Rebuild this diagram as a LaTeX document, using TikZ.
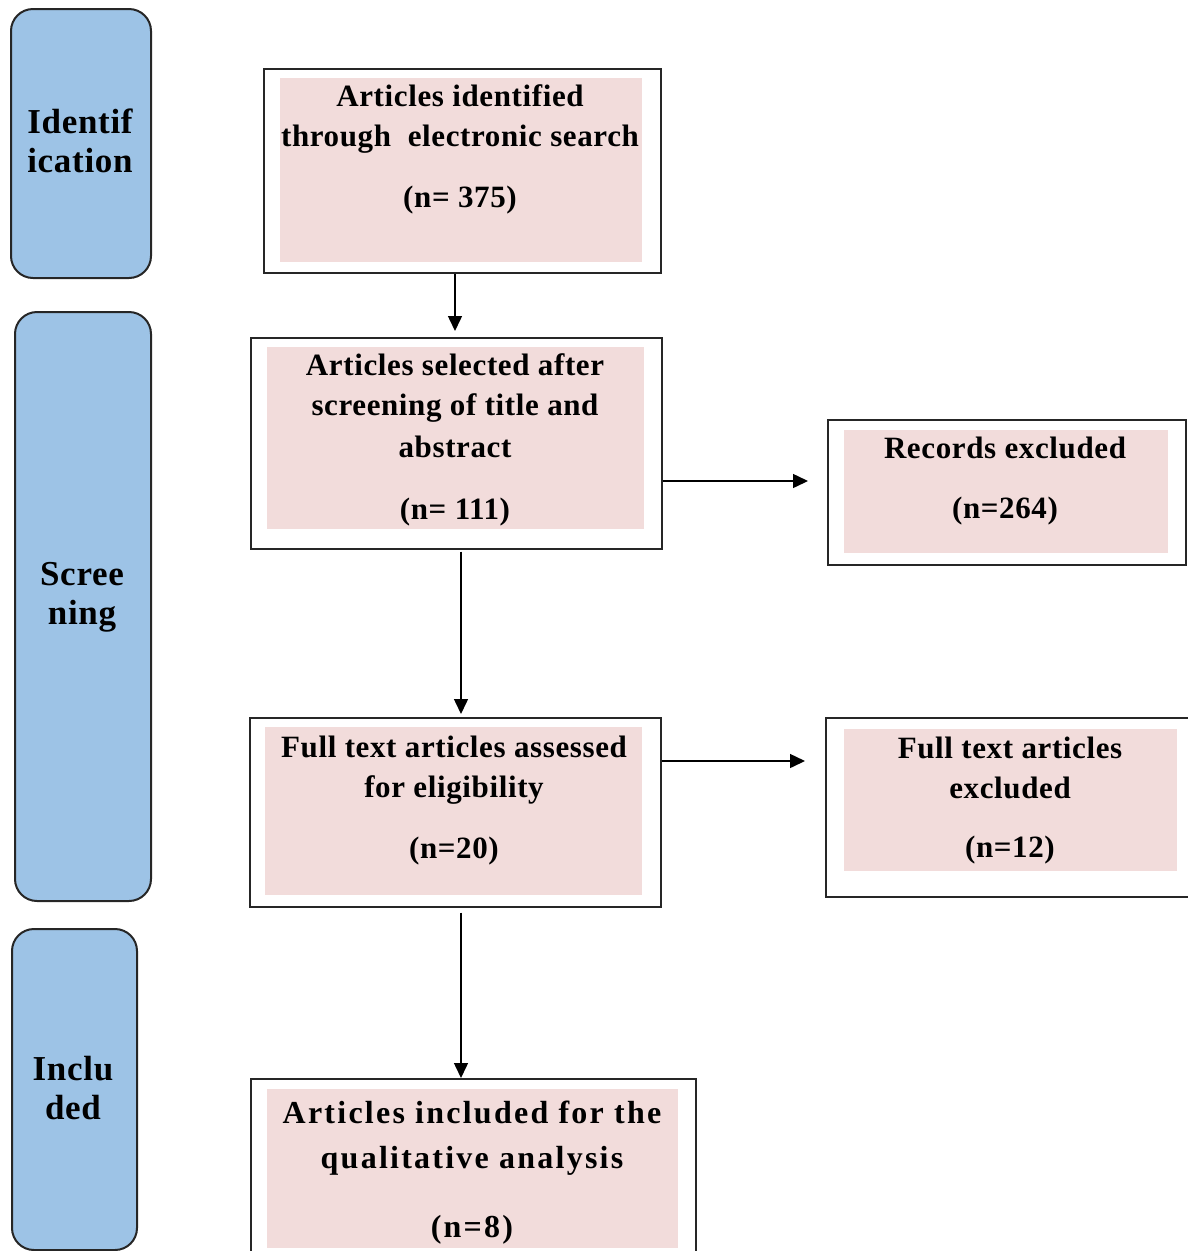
\documentclass[tikz,border=0pt]{standalone}
\usepackage{fontspec}
\setmainfont{Liberation Serif}
\newfontfamily\boxfont{Liberation Serif}[LetterSpace=2]
\newfontfamily\widefont{Liberation Serif}[LetterSpace=7]
\usetikzlibrary{arrows.meta}
\definecolor{phaseblue}{HTML}{9DC3E6}
\definecolor{pinkfill}{HTML}{F2DCDB}
\definecolor{edge}{HTML}{262626}
\tikzset{
  phasebox/.style={draw=edge, line width=2pt, fill=phaseblue, rounded corners=22pt, inner sep=0pt, anchor=north west},
  frame/.style={draw=edge, line width=1.5pt, fill=white, inner sep=0pt, anchor=north west},
  pinkbox/.style={fill=pinkfill, inner sep=0pt, anchor=north west},
  txt/.style={font=\boxfont\bfseries\fontsize{31}{40}\selectfont, align=center, inner sep=0pt, anchor=north},
  sidetxt/.style={font=\boxfont\bfseries\fontsize{35}{39}\selectfont, align=center, inner sep=0pt, anchor=north},
  bigtxt/.style={font=\widefont\bfseries\fontsize{32}{45}\selectfont, align=center, inner sep=0pt, anchor=north},
  arr/.style={-{Triangle[length=15pt,width=14pt]}, line width=1.5pt, draw=black}
}
\begin{document}
\begin{tikzpicture}[x=1pt,y=-1pt]
\useasboundingbox (0,0) rectangle (1188,1251);
% phase boxes
\node[phasebox, minimum width=140pt, minimum height=269pt] (ph1) at (10,8) {};
\node[phasebox, minimum width=136pt, minimum height=589pt] (ph2) at (14,311) {};
\node[phasebox, minimum width=125pt, minimum height=321pt] (ph3) at (11,928) {};
\node[sidetxt] (ph1t) at (80,109) {Identif\\ication};
\node[sidetxt] (ph2t) at (82,562) {Scree\\ning};
\node[sidetxt] (ph3t) at (73,1056) {Inclu\\ded};
% main boxes
\node[frame, minimum width=397pt, minimum height=204pt] (b1) at (263,68) {};
\node[pinkbox, minimum width=362pt, minimum height=184pt] (b1f) at (280,78) {};
\node[txt] (b1t) at (460,84.6) {Articles identified\\through~ electronic search\\[21pt](n= 375)};

\node[frame, minimum width=411pt, minimum height=211pt] (b2) at (250,337) {};
\node[pinkbox, minimum width=377pt, minimum height=182pt] (b2f) at (267,347) {};
\node[txt] (b2t) at (455,353.6) {Articles selected after\\screening of title and\\[2pt]abstract\\[22pt](n= 111)};

\node[frame, minimum width=358pt, minimum height=145pt] (r1) at (827,419) {};
\node[pinkbox, minimum width=324pt, minimum height=123pt] (r1f) at (844,430) {};
\node[txt] (r1t) at (1005,437) {Records excluded\\[20pt](n=264)};

\node[frame, minimum width=411pt, minimum height=189pt] (b3) at (249,717) {};
\node[pinkbox, minimum width=377pt, minimum height=168pt] (b3f) at (265,727) {};
\node[txt] (b3t) at (454,736) {Full text articles assessed\\for eligibility\\[21pt](n=20)};

\node[frame, minimum width=380pt, minimum height=179pt] (r2) at (825,717) {};
\node[pinkbox, minimum width=333pt, minimum height=142pt] (r2f) at (844,729) {};
\node[txt] (r2t) at (1010,737) {Full text articles\\excluded\\[19pt](n=12)};

\node[frame, minimum width=445pt, minimum height=190pt] (b4) at (250,1078) {};
\node[pinkbox, minimum width=411pt, minimum height=159pt] (b4f) at (267,1089) {};
\node[bigtxt] (b4t) at (472,1100.9) {Articles included for the\\qualitative analysis\\[24pt](n=8)};

% connectors
\coordinate (xa) at (455,0);
\coordinate (xb) at (461,0);
\coordinate (ya) at (0,481);
\coordinate (yb) at (0,761);
\draw[arr, shorten >=6pt] (b1.south -| xa) -- (b2.north -| xa);
\draw[arr, shorten <=2pt, shorten >=3pt] (b2.south -| xb) -- (b3.north -| xb);
\draw[arr, shorten <=5pt] (b3.south -| xb) -- (b4.north -| xb);
\draw[arr, shorten >=19pt] (b2.east |- ya) -- (r1.west |- ya);
\draw[arr, shorten >=20pt] (b3.east |- yb) -- (r2.west |- yb);
\end{tikzpicture}
\end{document}
